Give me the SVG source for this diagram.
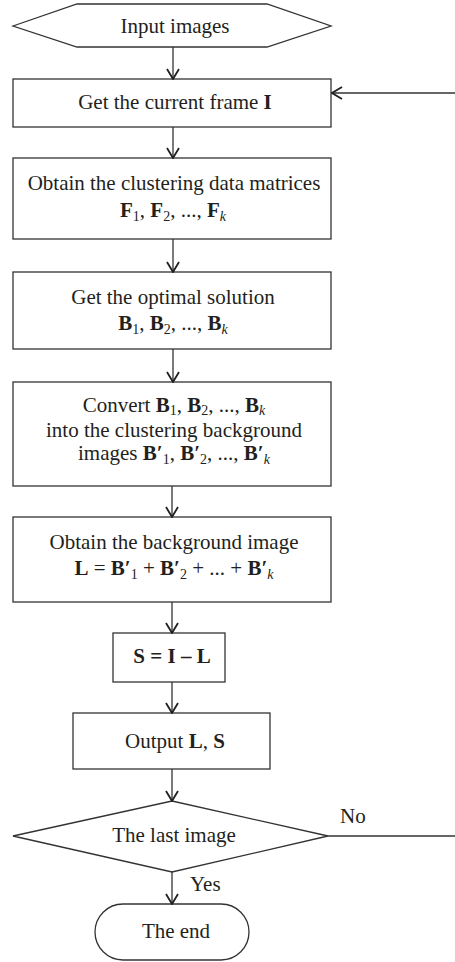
<svg xmlns="http://www.w3.org/2000/svg" width="455" height="962" viewBox="0 0 455 962">
<defs>
<style>
.s{fill:#fff;stroke:#333;stroke-width:1.3}
.t{font-family:"Liberation Serif","Times New Roman",serif;font-size:21px;fill:#231f20;text-anchor:middle}
.b{font-weight:bold}
.i{font-style:italic}
.c{fill:none;stroke:#333;stroke-width:1.3}
.l{font-family:"Liberation Serif","Times New Roman",serif;font-size:21px;fill:#231f20}
</style>
<marker id="ah" viewBox="0 0 12 14" refX="11" refY="7" markerWidth="12" markerHeight="14" markerUnits="userSpaceOnUse" orient="auto">
<path d="M1,1 L11,7 L1,13" fill="none" stroke="#231f20" stroke-width="1.8"/>
</marker>
</defs>
<rect width="455" height="962" fill="#fff"/>
<g id="input">
<polygon class="s" points="13,26 77,4 267,4 331,26 267,47 77,47"/>
<text class="t" x="175" y="33">Input images</text>
</g>
<g id="frame">
<rect class="s" x="13" y="79" width="318" height="48"/>
<text class="t" x="175" y="109">Get the current frame <tspan class="b">I</tspan></text>
</g>
<g id="cluster">
<rect class="s" x="13" y="158" width="318" height="81"/>
<text class="t" x="174" y="190">Obtain the clustering data matrices</text>
<text class="t" x="173" y="217"><tspan class="b">F</tspan><tspan font-size="14" dy="4">1</tspan><tspan dy="-4">, </tspan><tspan class="b">F</tspan><tspan font-size="14" dy="4">2</tspan><tspan dy="-4">, ..., </tspan><tspan class="b">F</tspan><tspan font-size="14" class="i" dy="4">k</tspan></text>
</g>
<g id="optimal">
<rect class="s" x="13" y="272" width="318" height="77"/>
<text class="t" x="173" y="304">Get the optimal solution</text>
<text class="t" x="173" y="330"><tspan class="b">B</tspan><tspan font-size="14" dy="4">1</tspan><tspan dy="-4">, </tspan><tspan class="b">B</tspan><tspan font-size="14" dy="4">2</tspan><tspan dy="-4">, ..., </tspan><tspan class="b">B</tspan><tspan font-size="14" class="i" dy="4">k</tspan></text>
</g>
<g id="convert">
<rect class="s" x="13" y="382" width="318" height="104"/>
<text class="t" x="174" y="412">Convert <tspan class="b">B</tspan><tspan font-size="14" dy="3">1</tspan><tspan dy="-3">, </tspan><tspan class="b">B</tspan><tspan font-size="14" dy="3">2</tspan><tspan dy="-3">, ..., </tspan><tspan class="b">B</tspan><tspan font-size="14" class="i" dy="3">k</tspan></text>
<text class="t" x="174" y="437">into the clustering background</text>
<text class="t" x="174" y="460">images <tspan class="b">B′</tspan><tspan font-size="14" dy="4">1</tspan><tspan dy="-4">, </tspan><tspan class="b">B′</tspan><tspan font-size="14" dy="4">2</tspan><tspan dy="-4">, ..., </tspan><tspan class="b">B′</tspan><tspan font-size="14" class="i" dy="4">k</tspan></text>
</g>
<g id="background">
<rect class="s" x="13" y="517" width="318" height="85"/>
<text class="t" x="174" y="549">Obtain the background image</text>
<text class="t" x="174" y="575"><tspan class="b">L</tspan> = <tspan class="b">B′</tspan><tspan font-size="14" dy="4">1</tspan><tspan dy="-4"> + </tspan><tspan class="b">B′</tspan><tspan font-size="14" dy="4">2</tspan><tspan dy="-4"> + ... + </tspan><tspan class="b">B′</tspan><tspan font-size="14" class="i" dy="4">k</tspan></text>
</g>
<g id="subtract">
<rect class="s" x="113" y="633" width="112" height="49"/>
<text class="t b" x="172" y="663">S = I – L</text>
</g>
<g id="output">
<rect class="s" x="73" y="713" width="197" height="56"/>
<text class="t" x="175" y="748">Output <tspan class="b">L</tspan>, <tspan class="b">S</tspan></text>
</g>
<g id="decision">
<polygon class="s" points="172,801 328,836 172,872 13,836"/>
<text class="t" x="174" y="842">The last image</text>
</g>
<g id="end">
<rect class="s" x="95" y="904" width="154" height="56" rx="28" ry="28"/>
<text class="t" x="176" y="938">The end</text>
</g>
<g id="connectors">
<line class="c" x1="173" y1="47" x2="173" y2="79" marker-end="url(#ah)"/>
<line class="c" x1="173" y1="127" x2="173" y2="158" marker-end="url(#ah)"/>
<line class="c" x1="173" y1="239" x2="173" y2="272" marker-end="url(#ah)"/>
<line class="c" x1="173" y1="349" x2="173" y2="382" marker-end="url(#ah)"/>
<line class="c" x1="172" y1="486" x2="172" y2="517" marker-end="url(#ah)"/>
<line class="c" x1="172" y1="602" x2="172" y2="633" marker-end="url(#ah)"/>
<line class="c" x1="172" y1="682" x2="172" y2="713" marker-end="url(#ah)"/>
<line class="c" x1="172" y1="769" x2="172" y2="801" marker-end="url(#ah)"/>
<line class="c" x1="172" y1="872" x2="172" y2="904" marker-end="url(#ah)"/>
<line class="c" x1="455" y1="93" x2="332" y2="93" marker-end="url(#ah)"/>
<line class="c" x1="328" y1="836" x2="455" y2="836"/>
<text class="l" x="340" y="823">No</text>
<text class="l" x="190" y="891">Yes</text>
</g>
</svg>
